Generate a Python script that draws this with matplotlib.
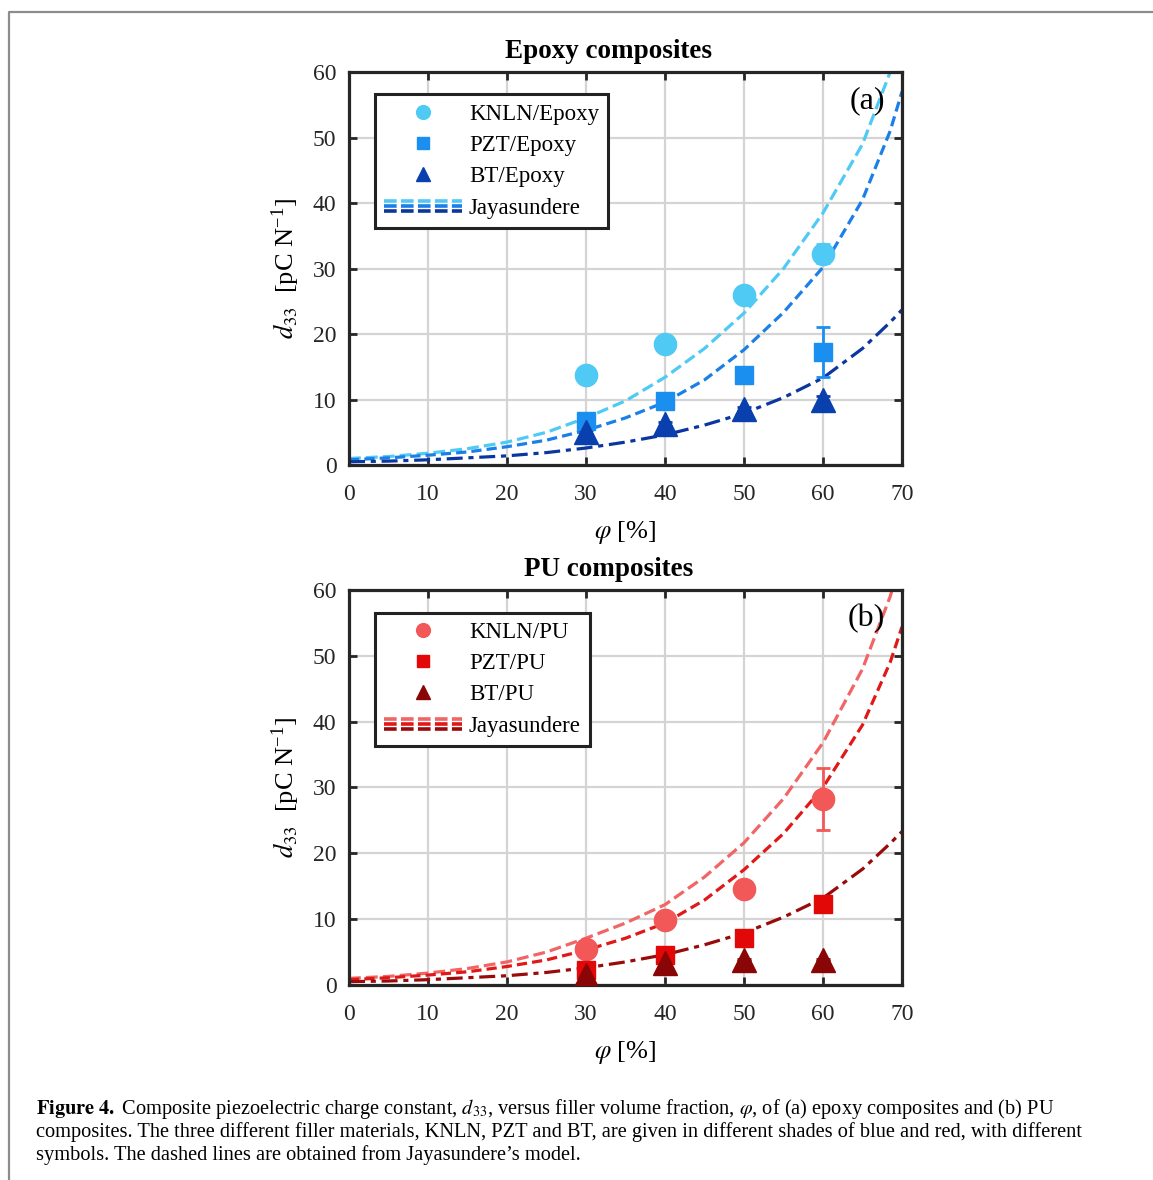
import numpy as np
import matplotlib
matplotlib.use('Agg')
import matplotlib.pyplot as plt
from matplotlib.lines import Line2D
from matplotlib.legend_handler import HandlerBase

plt.rcParams['font.family'] = ['Liberation Serif', 'DejaVu Serif']
plt.rcParams['mathtext.fontset'] = 'stix'

# measured points
phi = [30, 40, 50, 60]
knln_epoxy = [13.7, 18.5, 26.0, 32.3]
pzt_epoxy = [6.7, 9.8, 13.8, 17.3]
bt_epoxy = [5.0, 6.2, 8.5, 10.0]
knln_epoxy_err = [0.5, 0.5, 0.5, 1.5]
pzt_epoxy_err = [0.3, 0.3, 0.5, 3.8]
bt_epoxy_err = [0.3, 0.3, 0.3, 0.5]

knln_pu = [5.5, 9.8, 14.6, 28.3]
pzt_pu = [2.2, 4.5, 7.2, 12.3]
bt_pu = [1.5, 3.3, 3.8, 3.8]
knln_pu_err = [0.5, 0.5, 0.5, 4.7]
pzt_pu_err = [0.3, 0.3, 0.5, 1.2]
bt_pu_err = [0.2, 0.2, 0.2, 0.2]

# Jayasundere model curves
phi_model = [0, 5, 10, 15, 20, 25, 30, 35, 40, 45, 50, 55, 60, 65, 68.5, 70]
jay_knln_epoxy = [1.0, 1.3, 1.8, 2.5, 3.5, 5.0, 7.2, 9.8, 13.4, 17.8, 23.2, 30.0, 38.5, 49.0, 60.0, 66.0]
jay_pzt_epoxy = [0.8, 1.1, 1.5, 2.0, 2.8, 3.8, 5.3, 7.2, 9.6, 13.0, 17.6, 23.3, 30.2, 40.5, 51.0, 57.0]
jay_bt_epoxy = [0.5, 0.6, 0.8, 1.1, 1.4, 1.9, 2.6, 3.5, 4.6, 6.1, 7.9, 10.3, 13.3, 17.8, 21.8, 23.7]
jay_knln_pu = [1.0, 1.3, 1.8, 2.5, 3.5, 5.0, 7.1, 9.4, 12.2, 16.4, 21.6, 28.3, 36.8, 48.0, 59.0, 65.0]
jay_pzt_pu = [0.8, 1.1, 1.5, 2.0, 2.8, 3.8, 5.3, 7.1, 9.4, 12.9, 17.5, 23.0, 30.0, 39.5, 49.0, 54.4]
jay_bt_pu = [0.5, 0.6, 0.8, 1.1, 1.4, 1.9, 2.6, 3.5, 4.6, 6.1, 7.9, 10.3, 13.2, 17.6, 21.5, 23.3]

xticks = [0, 10, 20, 30, 40, 50, 60, 70]
yticks = [0, 10, 20, 30, 40, 50, 60]

styles = ['--', (0, (3.2, 1.6)), (0, (5, 1.8, 1.6, 1.8))]


class TripleLine(HandlerBase):
    def __init__(self, colors):
        super().__init__()
        self.colors = colors

    def create_artists(self, legend, orig_handle, xdescent, ydescent, width, height, fontsize, trans):
        arts = []
        offs = [0.8, 0.5, 0.2]
        for c, o in zip(self.colors, offs):
            l = Line2D([0 - xdescent, width - xdescent], [height * o - ydescent] * 2,
                       color=c, lw=2.6, linestyle=(0, (3.5, 1.2)))
            l.set_transform(trans)
            arts.append(l)
        return arts


def panel(ax, data, errs, curves, mcols, lcols, labels, title, tag, title_y):
    markers = ['o', 's', '^']
    msizes = [16, 13, 17]
    for c, ls, col in zip(curves, styles, lcols):
        ax.plot(phi_model, c, linestyle=ls, color=col, lw=2.3, zorder=2)
    handles = []
    for d, e, m, ms, col, lab in zip(data, errs, markers, msizes, mcols, labels):
        ax.errorbar(phi, d, yerr=e, fmt='none', ecolor=col, elinewidth=2, capsize=5, capthick=2, zorder=3)
        ax.plot(phi, d, linestyle='none', marker=m, markersize=ms, color=col, zorder=4)
        handles.append(Line2D([], [], linestyle='none', marker=m, markersize=ms * 0.62, color=col, label=lab))
    jay = Line2D([], [], color=lcols[0], label='Jayasundere')
    handles.append(jay)

    ax.set_xlim(0, 70)
    ax.set_ylim(0, 60)
    ax.set_xticks(xticks)
    ax.set_yticks(yticks)
    ax.grid(True, color='#d4d4d4', lw=1.6)
    ax.set_axisbelow(True)
    ax.tick_params(direction='in', top=True, right=True, length=6, width=2,
                   labelsize=17, colors='#262626')
    ax.tick_params(axis='x', pad=14)
    ax.tick_params(axis='y', pad=9)
    for s in ax.spines.values():
        s.set_linewidth(2.3)
        s.set_color('#262626')
    ax.set_xlabel(r'$\varphi$ [%]', fontsize=19, labelpad=10)
    ax.set_ylabel(r'$d_{\mathit{33}}$  [pC N$^{\mathregular{-1}}$]', fontsize=19, labelpad=8)
    ax.text(0.969, 0.965, tag, transform=ax.transAxes, ha='right', va='top', fontsize=23)

    leg = ax.legend(handles=handles, loc='upper left', bbox_to_anchor=(0.047, 0.943),
                    borderaxespad=0, fontsize=16.5, handlelength=3.4, handletextpad=0.3,
                    labelspacing=0.45, borderpad=0.4, fancybox=False, framealpha=1,
                    edgecolor='#222222', handler_map={jay: TripleLine(lcols)})
    leg.get_frame().set_linewidth(2.2)
    fig.text(0.528, title_y, title, ha='center', va='center', fontsize=19.5, fontweight='bold')


fig = plt.figure(figsize=(11.53, 11.8), dpi=100)
ax1 = fig.add_axes([0.3027, 0.6059, 0.4796, 0.333])
ax2 = fig.add_axes([0.3027, 0.1653, 0.4796, 0.3347])

blue_m = ['#4fcaf5', '#1a8ff0', '#0a3fae']
blue_l = ['#4fcaf5', '#1a7fe6', '#0b36a0']
red_m = ['#f25858', '#e30808', '#8a0505']
red_l = ['#f26565', '#e01818', '#990a0a']

panel(ax1, [knln_epoxy, pzt_epoxy, bt_epoxy], [knln_epoxy_err, pzt_epoxy_err, bt_epoxy_err],
      [jay_knln_epoxy, jay_pzt_epoxy, jay_bt_epoxy], blue_m, blue_l,
      ['KNLN/Epoxy', 'PZT/Epoxy', 'BT/Epoxy'], 'Epoxy composites', '(a)', 1 - 51 / 1180)
panel(ax2, [knln_pu, pzt_pu, bt_pu], [knln_pu_err, pzt_pu_err, bt_pu_err],
      [jay_knln_pu, jay_pzt_pu, jay_bt_pu], red_m, red_l,
      ['KNLN/PU', 'PZT/PU', 'BT/PU'], 'PU composites', '(b)', 1 - 570 / 1180)

# frame around the figure
fig.add_artist(Line2D([9 / 1153, 9 / 1153, 1.0], [0.0, 1 - 12 / 1180, 1 - 12 / 1180],
                      transform=fig.transFigure, color='#8c8c8c', lw=1.6))

cap = [r'$\mathbf{Figure\ 4.}$ Composite piezoelectric charge constant, $d_{33}$, versus filler volume fraction, $\varphi$, of (a) epoxy composites and (b) PU',
       'composites. The three different filler materials, KNLN, PZT and BT, are given in different shades of blue and red, with different',
       'symbols. The dashed lines are obtained from Jayasundere\u2019s model.']
for i, line in enumerate(cap):
    fig.text(36 / 1153, 1 - (1114 + 23 * i) / 1180, line, ha='left', va='baseline', fontsize=14.7)

fig.savefig('out.png', dpi=100)
